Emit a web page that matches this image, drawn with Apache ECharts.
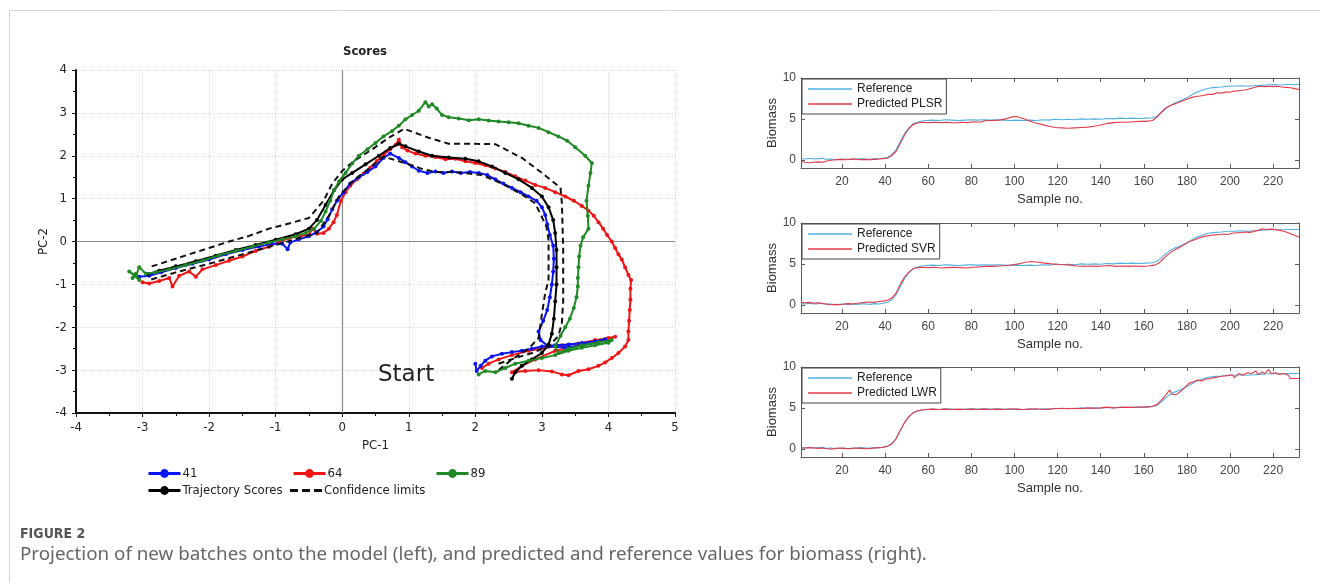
<!DOCTYPE html>
<html><head><meta charset="utf-8">
<script src="https://cdn.jsdelivr.net/npm/echarts@6/dist/echarts.min.js"></script>
<style>html,body{margin:0;padding:0;background:#fff;}#c{width:1320px;height:583px;}</style>
</head><body><div id="c"></div>
<script>
// ---------- Left chart: PCA score trajectories (PC-1, PC-2) ----------
const batch41 = [[2.0,-2.85],[2.02,-3.02],[2.08,-2.9],[2.15,-2.78],[2.25,-2.68],[2.4,-2.62],[2.55,-2.58],[2.7,-2.55],[2.85,-2.5],[3.0,-2.45],[3.2,-2.42],[3.4,-2.4],[3.6,-2.37],[3.8,-2.33],[3.95,-2.28],[3.85,-2.35],[3.6,-2.42],[3.35,-2.47],[3.1,-2.45],[2.98,-2.3],[2.95,-2.1],[3.02,-1.85],[3.08,-1.6],[3.12,-1.3],[3.15,-1.0],[3.17,-0.7],[3.18,-0.4],[3.17,-0.1],[3.12,0.15],[3.08,0.4],[3.05,0.62],[3.0,0.8],[2.92,0.95],[2.8,1.05],[2.68,1.15],[2.55,1.25],[2.42,1.35],[2.3,1.45],[2.18,1.55],[2.05,1.6],[1.92,1.62],[1.78,1.6],[1.65,1.63],[1.52,1.6],[1.4,1.63],[1.28,1.6],[1.15,1.65],[1.05,1.75],[0.95,1.85],[0.85,1.95],[0.72,2.05],[0.62,1.95],[0.5,1.75],[0.38,1.62],[0.25,1.5],[0.12,1.35],[0.02,1.15],[-0.08,0.95],[-0.15,0.75],[-0.22,0.52],[-0.28,0.35],[-0.38,0.22],[-0.5,0.12],[-0.65,0.05],[-0.78,-0.02],[-0.82,-0.18],[-0.9,-0.05],[-1.05,-0.05],[-1.25,-0.12],[-1.5,-0.2],[-1.75,-0.3],[-2.0,-0.42],[-2.25,-0.52],[-2.5,-0.62],[-2.72,-0.72],[-2.9,-0.8],[-3.05,-0.82]];
const batch64 = [[2.1,-2.95],[2.2,-2.85],[2.35,-2.75],[2.55,-2.65],[2.8,-2.55],[3.05,-2.48],[3.3,-2.42],[3.55,-2.38],[3.8,-2.3],[4.0,-2.25],[4.1,-2.22],[3.95,-2.3],[3.6,-2.42],[3.2,-2.55],[2.9,-2.75],[2.7,-2.9],[2.55,-3.05],[2.75,-3.02],[2.95,-3.0],[3.15,-3.03],[3.3,-3.1],[3.4,-3.12],[3.55,-3.02],[3.7,-2.98],[3.85,-2.9],[3.95,-2.82],[4.05,-2.72],[4.15,-2.6],[4.25,-2.45],[4.3,-2.3],[4.3,-2.1],[4.31,-1.85],[4.32,-1.6],[4.33,-1.35],[4.33,-1.1],[4.34,-0.9],[4.3,-0.78],[4.25,-0.6],[4.2,-0.42],[4.15,-0.3],[4.1,-0.15],[4.05,0.0],[3.98,0.15],[3.92,0.3],[3.85,0.45],[3.78,0.6],[3.7,0.72],[3.6,0.83],[3.48,0.95],[3.35,1.05],[3.2,1.15],[3.05,1.25],[2.9,1.32],[2.75,1.42],[2.6,1.52],[2.45,1.62],[2.3,1.7],[2.15,1.78],[2.0,1.83],[1.85,1.87],[1.7,1.93],[1.55,1.92],[1.4,1.97],[1.25,2.0],[1.1,2.05],[0.98,2.12],[0.9,2.2],[0.85,2.38],[0.8,2.25],[0.72,2.15],[0.62,2.02],[0.52,1.88],[0.42,1.72],[0.32,1.58],[0.22,1.45],[0.12,1.3],[0.05,1.15],[-0.02,0.95],[-0.08,0.62],[-0.13,0.45],[-0.2,0.3],[-0.28,0.2],[-0.38,0.18],[-0.45,0.3],[-0.5,0.15],[-0.65,0.12],[-0.8,0.08],[-0.9,0.02],[-1.1,-0.12],[-1.3,-0.22],[-1.5,-0.35],[-1.7,-0.45],[-1.9,-0.55],[-2.1,-0.65],[-2.2,-0.82],[-2.3,-0.7],[-2.45,-0.8],[-2.55,-1.05],[-2.6,-0.85],[-2.75,-0.92],[-2.9,-0.98],[-3.0,-0.95]];
const batch89 = [[2.05,-3.1],[2.15,-3.02],[2.3,-3.05],[2.45,-2.95],[2.6,-2.85],[2.8,-2.78],[3.0,-2.72],[3.2,-2.65],[3.4,-2.55],[3.6,-2.48],[3.8,-2.42],[4.0,-2.36],[4.05,-2.3],[3.85,-2.35],[3.6,-2.42],[3.4,-2.5],[3.25,-2.6],[3.2,-2.45],[3.28,-2.2],[3.35,-2.0],[3.42,-1.8],[3.48,-1.55],[3.52,-1.3],[3.54,-1.05],[3.54,-0.85],[3.55,-0.6],[3.56,-0.35],[3.58,-0.1],[3.62,0.1],[3.7,0.3],[3.69,0.6],[3.67,0.95],[3.7,1.3],[3.73,1.6],[3.75,1.83],[3.65,2.0],[3.5,2.2],[3.38,2.35],[3.25,2.45],[3.1,2.55],[2.95,2.65],[2.8,2.7],[2.65,2.76],[2.5,2.78],[2.35,2.8],[2.2,2.82],[2.05,2.85],[1.9,2.83],[1.75,2.87],[1.6,2.9],[1.5,2.95],[1.42,3.1],[1.35,3.2],[1.3,3.15],[1.25,3.25],[1.15,3.05],[1.05,2.95],[0.95,2.85],[0.85,2.7],[0.75,2.58],[0.62,2.45],[0.5,2.3],[0.38,2.15],[0.25,2.0],[0.15,1.82],[0.05,1.6],[-0.05,1.4],[-0.12,1.2],[-0.18,0.95],[-0.25,0.7],[-0.32,0.48],[-0.42,0.3],[-0.55,0.2],[-0.7,0.12],[-0.9,0.05],[-1.1,-0.02],[-1.35,-0.12],[-1.6,-0.22],[-1.85,-0.32],[-2.1,-0.45],[-2.35,-0.55],[-2.6,-0.65],[-2.8,-0.72],[-2.95,-0.75],[-3.05,-0.6],[-3.1,-0.8],[-3.2,-0.7],[-3.05,-0.9],[-3.1,-0.75],[-3.15,-0.85]];
const trajectoryScores = [[2.55,-3.2],[2.6,-3.05],[2.7,-2.9],[2.85,-2.75],[3.0,-2.6],[3.1,-2.4],[3.15,-2.15],[3.18,-1.8],[3.2,-1.4],[3.22,-1.0],[3.22,-0.6],[3.22,-0.2],[3.2,0.2],[3.17,0.5],[3.1,0.8],[3.0,1.05],[2.85,1.25],[2.65,1.45],[2.45,1.6],[2.25,1.75],[2.05,1.87],[1.85,1.93],[1.6,1.96],[1.35,2.0],[1.15,2.1],[0.95,2.22],[0.85,2.28],[0.72,2.18],[0.55,2.0],[0.35,1.8],[0.15,1.6],[0.0,1.45],[-0.12,1.2],[-0.25,0.85],[-0.38,0.5],[-0.5,0.3],[-0.7,0.17],[-1.0,0.04],[-1.3,-0.08],[-1.6,-0.2],[-1.9,-0.33],[-2.2,-0.46],[-2.5,-0.58],[-2.75,-0.68],[-2.92,-0.76]];
const confUpper = [[2.35,-2.85],[2.6,-2.72],[2.85,-2.6],[3.1,-2.45],[3.25,-2.2],[3.3,-1.9],[3.32,-1.4],[3.32,-0.8],[3.32,-0.2],[3.31,0.4],[3.3,0.9],[3.28,1.25],[3.0,1.6],[2.7,1.95],[2.3,2.27],[1.9,2.28],[1.6,2.28],[1.3,2.42],[0.93,2.63],[0.7,2.42],[0.45,2.15],[0.2,1.9],[0.0,1.65],[-0.15,1.35],[-0.28,0.95],[-0.5,0.55],[-0.8,0.42],[-1.1,0.3],[-1.4,0.13],[-1.7,0.0],[-2.0,-0.15],[-2.3,-0.3],[-2.6,-0.45],[-2.9,-0.6]];
const confLower = [[2.35,-3.0],[2.55,-2.75],[2.8,-2.5],[2.95,-2.25],[3.0,-1.7],[3.05,-1.2],[3.1,-0.9],[3.1,-0.3],[3.1,0.03],[3.07,0.34],[2.9,0.89],[2.7,1.1],[2.4,1.35],[2.1,1.55],[1.7,1.62],[1.4,1.62],[1.19,1.7],[0.9,1.85],[0.62,1.98],[0.4,1.7],[0.15,1.4],[-0.05,1.05],[-0.2,0.6],[-0.38,0.2],[-0.6,0.1],[-1.0,-0.08],[-1.5,-0.3],[-2.0,-0.52],[-2.5,-0.72],[-2.9,-0.9]];

// ---------- Right charts: biomass vs sample number ----------
const sampleTicks = [20,40,60,80,100,120,140,160,180,200,220];
const biomassTicks = [0,5,10];
const reference = [[1,0.15],[3,0.1],[5,0.2],[7,0.1],[9,0.15],[11,0.2],[13,0.05],[15,0.1],[17,0.0],[19,0.05],[21,0.1],[23,0.0],[25,0.1],[27,0.05],[29,0.15],[31,0.1],[33,0.05],[35,0.15],[37,0.1],[39,0.2],[41,0.3],[43,0.6],[45,1.2],[47,2.2],[49,3.2],[51,3.9],[53,4.4],[55,4.6],[57,4.75],[59,4.8],[62,4.85],[65,4.8],[68,4.9],[71,4.85],[74,4.8],[77,4.85],[80,4.9],[83,4.85],[86,4.9],[89,4.85],[92,4.9],[95,4.85],[98,4.8],[101,4.85],[104,4.8],[107,4.85],[110,4.8],[113,4.9],[116,4.85],[119,4.95],[122,4.9],[125,4.95],[128,4.9],[131,5.0],[134,4.95],[137,5.0],[140,4.95],[143,5.05],[146,5.0],[149,5.1],[152,5.05],[155,5.1],[158,5.05],[161,5.1],[164,5.15],[166,5.3],[168,5.7],[170,6.2],[172,6.6],[174,6.9],[176,7.1],[178,7.35],[180,7.6],[182,7.9],[184,8.2],[186,8.4],[188,8.6],[190,8.75],[193,8.85],[196,8.9],[199,9.0],[202,9.0],[205,9.05],[208,9.0],[211,9.05],[214,9.1],[217,9.15],[220,9.2],[223,9.15],[226,9.2],[229,9.2],[232,9.2]];
const predictedPLSR = [[1,-0.2],[3,-0.3],[5,-0.35],[7,-0.3],[9,-0.25],[11,-0.3],[13,-0.15],[15,-0.05],[17,0.0],[19,0.05],[21,0.0],[23,0.05],[25,0.1],[27,0.05],[29,0.0],[31,0.05],[33,0.0],[35,0.05],[37,0.1],[39,0.15],[41,0.2],[43,0.5],[45,1.0],[47,2.0],[49,3.0],[51,3.8],[53,4.3],[55,4.5],[57,4.6],[60,4.55],[63,4.6],[66,4.55],[69,4.6],[72,4.5],[75,4.6],[78,4.55],[81,4.65],[84,4.6],[87,4.8],[90,4.8],[93,4.85],[96,5.0],[99,5.25],[101,5.3],[103,5.1],[105,4.95],[107,4.75],[110,4.5],[113,4.3],[116,4.1],[119,3.95],[122,3.9],[125,3.85],[128,3.9],[131,3.95],[134,4.0],[137,4.1],[140,4.25],[143,4.45],[146,4.55],[149,4.6],[152,4.6],[155,4.65],[158,4.7],[161,4.7],[164,4.8],[166,5.2],[168,5.8],[170,6.3],[172,6.6],[174,6.8],[176,7.0],[178,7.2],[180,7.4],[182,7.6],[184,7.75],[186,7.8],[188,7.9],[190,8.0],[192,8.0],[194,8.2],[196,8.15],[198,8.3],[200,8.25],[202,8.4],[204,8.45],[206,8.5],[208,8.6],[210,8.75],[212,8.9],[214,9.0],[216,8.95],[218,9.0],[220,8.95],[222,9.0],[224,8.9],[226,8.85],[228,8.8],[230,8.7],[232,8.6]];
const predictedSVR = [[1,0.3],[3,0.25],[5,0.3],[7,0.2],[9,0.25],[11,0.15],[13,0.1],[15,0.0],[17,0.05],[19,0.0],[21,0.1],[23,0.15],[25,0.1],[27,0.2],[29,0.25],[31,0.3],[33,0.35],[35,0.3],[37,0.4],[39,0.45],[41,0.55],[43,0.8],[45,1.4],[47,2.5],[49,3.4],[51,4.0],[53,4.4],[55,4.55],[57,4.6],[60,4.55],[63,4.6],[66,4.5],[69,4.55],[72,4.6],[75,4.55],[78,4.5],[81,4.6],[84,4.65],[87,4.7],[90,4.7],[93,4.75],[96,4.8],[99,4.9],[102,5.0],[105,5.2],[108,5.3],[111,5.2],[114,5.1],[117,5.0],[120,4.95],[123,4.9],[126,4.85],[129,4.75],[132,4.7],[135,4.75],[138,4.7],[141,4.75],[144,4.8],[147,4.7],[150,4.75],[153,4.7],[156,4.75],[159,4.7],[162,4.75],[165,4.85],[167,5.1],[169,5.6],[171,6.1],[173,6.5],[175,6.8],[177,7.1],[179,7.4],[181,7.7],[183,7.9],[185,8.1],[187,8.3],[189,8.4],[191,8.5],[193,8.55],[195,8.6],[197,8.65],[199,8.6],[201,8.75],[203,8.8],[205,8.8],[207,8.9],[209,8.85],[211,8.95],[213,9.1],[215,9.3],[217,9.2],[219,9.25],[221,9.2],[223,9.1],[225,9.0],[227,8.8],[229,8.6],[232,8.3]];
const predictedLWR = [[1,0.1],[3,0.1],[5,0.15],[7,0.1],[9,0.05],[11,0.1],[13,0.0],[15,-0.05],[17,0.05],[19,0.1],[21,0.05],[23,0.0],[25,0.05],[27,0.1],[29,0.05],[31,0.0],[33,0.05],[35,0.1],[37,0.15],[39,0.2],[41,0.3],[43,0.6],[45,1.2],[47,2.2],[49,3.2],[51,3.9],[53,4.4],[55,4.65],[57,4.75],[59,4.8],[62,4.85],[65,4.8],[68,4.85],[71,4.8],[74,4.85],[77,4.8],[80,4.85],[83,4.8],[86,4.85],[89,4.8],[92,4.85],[95,4.8],[98,4.9],[101,4.85],[104,4.8],[107,4.85],[110,4.9],[113,4.8],[116,4.85],[119,4.9],[122,4.95],[125,4.9],[128,4.95],[131,4.9],[134,5.0],[137,4.95],[140,5.0],[143,5.1],[146,5.0],[149,5.05],[152,5.1],[155,5.05],[158,5.15],[161,5.1],[164,5.2],[166,5.4],[168,5.9],[170,6.5],[172,7.2],[173,6.7],[175,6.6],[177,7.0],[179,7.5],[181,8.0],[183,8.2],[185,8.4],[187,8.3],[189,8.55],[191,8.6],[193,8.7],[195,8.8],[197,8.9],[199,8.95],[201,9.05],[202,8.7],[204,9.2],[206,9.0],[208,9.3],[210,9.2],[212,9.5],[213,9.1],[215,9.4],[216,9.2],[218,9.7],[219,9.2],[221,9.3],[223,9.1],[225,9.2],[227,9.0],[228,8.6],[232,8.6]];
const modelNames = ['Predicted PLSR','Predicted SVR','Predicted LWR'];
const predictions = [predictedPLSR, predictedSVR, predictedLWR];

const NARROW = "'Liberation Sans Narrow','DejaVu Sans Condensed','Arial Narrow',sans-serif";
const ARIAL = "'Liberation Sans',Arial,sans-serif";
const LINE_ICON = 'path://M0,0h44v1.3h-44z';
const DASH_ICON = 'path://M0,0h8v3h-8z M12,0h8v3h-8z M24,0h8v3h-8z';
const chart = echarts.init(document.getElementById('c'), null, {renderer:'canvas'});

const grids = [{left:76, top:70, width:599, height:343}];
const xAxes = [{
  type:'value', gridIndex:0, min:-4, max:5, interval:1,
  name:'PC-1', nameLocation:'middle', nameGap:24,
  nameTextStyle:{fontFamily:NARROW, fontSize:13, color:'#222'},
  axisLine:{show:true, onZero:false, lineStyle:{color:'#111', width:2}},
  axisTick:{show:true, length:4, lineStyle:{color:'#111'}},
  minorTick:{show:true, splitNumber:2, length:3, lineStyle:{color:'#111'}},
  splitLine:{show:true, lineStyle:{color:'#d9d9d9', type:'dotted', width:1}},
  axisLabel:{fontFamily:NARROW, fontSize:13, color:'#222', margin:8}
}];
const yAxes = [{
  type:'value', gridIndex:0, min:-4, max:4, interval:1,
  name:'PC-2', nameLocation:'middle', nameGap:26,
  nameTextStyle:{fontFamily:NARROW, fontSize:13, color:'#222'},
  axisLine:{show:true, onZero:false, lineStyle:{color:'#111', width:2}},
  axisTick:{show:true, length:4, lineStyle:{color:'#111'}},
  minorTick:{show:true, splitNumber:2, length:3, lineStyle:{color:'#111'}},
  splitLine:{show:true, lineStyle:{color:'#d9d9d9', type:'dotted', width:1}},
  axisLabel:{fontFamily:NARROW, fontSize:13, color:'#222', margin:9}
}];

const rightTops = [78, 223, 367];
const series = [];
const legends = [];
const AX = '#5a5a5a';
rightTops.forEach((top, k) => {
  const gi = k + 1;
  grids.push({left:801, top:top, width:498, height:90});
  const common = {type:'value', gridIndex:gi, splitLine:{show:false}};
  xAxes.push(Object.assign({}, common, {
    min:1, max:232, position:'bottom',
    name:'Sample no.', nameLocation:'middle', nameGap:25,
    nameTextStyle:{fontFamily:ARIAL, fontSize:13, color:'#333'},
    axisLine:{show:true, onZero:false, lineStyle:{color:AX}},
    axisTick:{show:true, inside:true, length:4, customValues:sampleTicks, lineStyle:{color:AX}},
    axisLabel:{customValues:sampleTicks, fontFamily:ARIAL, fontSize:12, color:'#444', margin:8}
  }));
  xAxes.push(Object.assign({}, common, {
    min:1, max:232, position:'top',
    axisLine:{show:true, onZero:false, lineStyle:{color:AX}},
    axisTick:{show:true, inside:true, length:4, customValues:sampleTicks, lineStyle:{color:AX}},
    axisLabel:{show:false}
  }));
  yAxes.push(Object.assign({}, common, {
    min:-1, max:10, position:'left',
    name:'Biomass', nameLocation:'middle', nameGap:18,
    nameTextStyle:{fontFamily:ARIAL, fontSize:13, color:'#333'},
    axisLine:{show:true, onZero:false, lineStyle:{color:AX}},
    axisTick:{show:true, inside:true, length:4, customValues:biomassTicks, lineStyle:{color:AX}},
    axisLabel:{customValues:biomassTicks, fontFamily:ARIAL, fontSize:12, color:'#444', margin:5}
  }));
  yAxes.push(Object.assign({}, common, {
    min:-1, max:10, position:'right',
    axisLine:{show:true, onZero:false, lineStyle:{color:AX}},
    axisTick:{show:true, inside:true, length:4, customValues:biomassTicks, lineStyle:{color:AX}},
    axisLabel:{show:false}
  }));
  const xi = 1 + k*2, yi = 1 + k*2;
  series.push({type:'line', name:'Reference', xAxisIndex:xi, yAxisIndex:yi, data:reference,
    symbol:'none', lineStyle:{color:'#4fb0e3', width:1.1}, itemStyle:{color:'#4fb0e3'}, silent:true, z:2});
  series.push({type:'line', name:modelNames[k], xAxisIndex:xi, yAxisIndex:yi, data:predictions[k],
    symbol:'none', lineStyle:{color:'#e23a47', width:1.1}, itemStyle:{color:'#e23a47'}, silent:true, z:3});
  legends.push({
    data:[{name:'Reference', icon:LINE_ICON}, {name:modelNames[k], icon:LINE_ICON}],
    orient:'vertical', left:802, top:top+1,
    backgroundColor:'#fff', borderColor:'#444', borderWidth:1, padding:[4,4,4,6],
    itemWidth:44, itemHeight:12, itemGap:3, selectedMode:false,
    textStyle:{fontFamily:ARIAL, fontSize:12, color:'#222'}, z:10
  });
});

// left chart series
const dot = (name, data, color, z) => ({
  type:'line', name:name, xAxisIndex:0, yAxisIndex:0, data:data, symbol:'circle', symbolSize:4,
  showSymbol:true, lineStyle:{color:color, width:2}, itemStyle:{color:color}, silent:true, z:z, animation:false
});
const s41 = dot('41', batch41, '#0a14f0', 3);
s41.markLine = {silent:true, symbol:['none','none'], label:{show:false},
  lineStyle:{color:'#8a8a8a', type:'solid', width:1.2}, data:[{xAxis:0},{yAxis:0}], z:1};
series.push(dot('64', batch64, '#f01414', 2));
series.push(s41);
series.push(dot('Trajectory Scores', trajectoryScores, '#000', 4));
series.push({type:'line', name:'Confidence limits', xAxisIndex:0, yAxisIndex:0, data:confUpper, symbol:'none',
  lineStyle:{color:'#111', width:2, type:[6,4]}, itemStyle:{color:'#111'}, silent:true, z:5});
series.push({type:'line', name:'Confidence limits', xAxisIndex:0, yAxisIndex:0, data:confLower, symbol:'none',
  lineStyle:{color:'#111', width:2, type:[6,4]}, itemStyle:{color:'#111'}, silent:true, z:5});
series.push(dot('89', batch89, '#1f8a25', 6));

const leftLeg = (item, left, top) => ({
  data:[item], left:left, top:top, padding:0, itemWidth:32, itemHeight:11, selectedMode:false,
  lineStyle:{width:3},
  textStyle:{fontFamily:NARROW, fontSize:13, color:'#222', padding:[0,0,0,-3]}
});
legends.push(leftLeg('41', 147, 467));
legends.push(leftLeg('64', 292, 467));
legends.push(leftLeg('89', 435, 467));
legends.push(leftLeg('Trajectory Scores', 147, 484));
legends.push(leftLeg({name:'Confidence limits', icon:DASH_ICON}, 290, 484));

const option = {
  animation:false,
  backgroundColor:'#fff',
  title:{text:'Scores', left:360, top:40, textAlign:'center',
    textStyle:{fontFamily:NARROW, fontSize:13, fontWeight:'bold', color:'#222'}},
  grid:grids, xAxis:xAxes, yAxis:yAxes, legend:legends, series:series,
  graphic:[
    {type:'line', shape:{x1:9, y1:10.5, x2:1320, y2:10.5}, style:{stroke:'#d4d4d4', lineWidth:1}, silent:true},
    {type:'line', shape:{x1:9.5, y1:10, x2:9.5, y2:583}, style:{stroke:'#d4d4d4', lineWidth:1}, silent:true},
    {type:'text', left:378, top:364, style:{text:'Start', font:"23px 'DejaVu Sans',Verdana,sans-serif", fill:'#222'}, z:20, silent:true},
    {type:'text', left:20, top:527, style:{text:'FIGURE 2', font:"bold 14px " + NARROW, fill:'#555'}, silent:true},
    {type:'text', left:20, top:545, style:{text:'Projection of new batches onto the model (left), and predicted and reference values for biomass (right).', font:"18.8px 'Noto Sans',sans-serif", fill:'#666'}, silent:true}
  ]
};
chart.setOption(option);
</script></body></html>
